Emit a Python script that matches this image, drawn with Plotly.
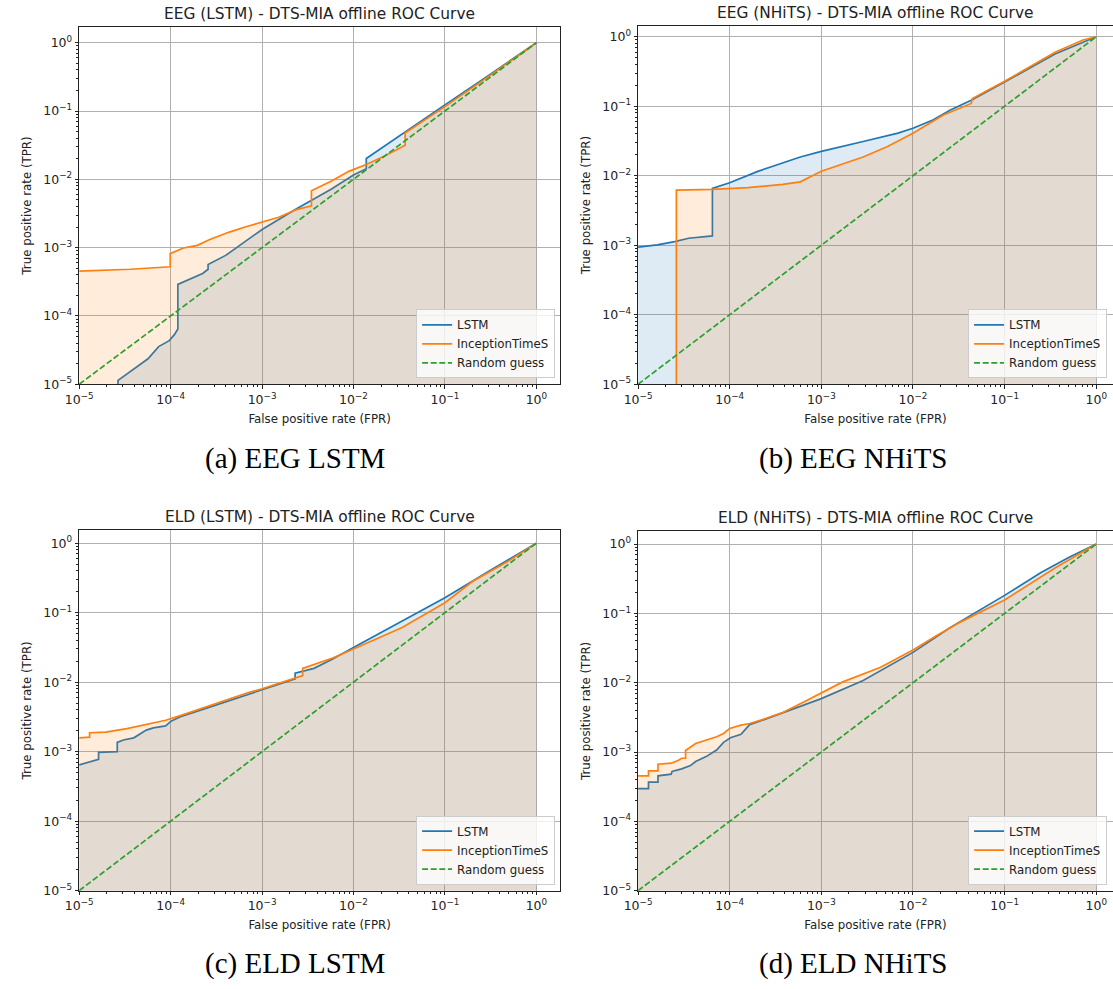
import plotly.graph_objects as go

# ---------------- data ----------------
# Panel (a) EEG LSTM
a_lstm_fpr = [2.66e-5, 2.66e-5, 5.66e-5, 7.4e-5, 9.66e-5, 1.10e-4, 1.2e-4, 1.2e-4, 2.24e-4, 2.4e-4, 2.57e-4, 2.57e-4,
              4.0e-4, 6.8e-4, 1e-3, 2.36e-3, 5.75e-3, 1.0e-2, 1.38e-2, 1.38e-2, 3.73e-2, 0.1, 0.315, 1.0]
a_lstm_tpr = [5e-6, 1.14e-5, 2.36e-5, 3.56e-5, 4.35e-5, 5.32e-5, 6.45e-5, 2.9e-4, 4.18e-4, 4.5e-4, 4.83e-4, 5.65e-4,
              7.7e-4, 1.28e-3, 1.84e-3, 3.67e-3, 7.2e-3, 1.16e-2, 1.43e-2, 2.02e-2, 5.04e-2, 0.123, 0.347, 1.0]
a_inc_fpr = [1e-5, 3.63e-5, 9.9e-5, 9.9e-5, 1.38e-4, 1.96e-4, 2.68e-4, 4.38e-4, 6.8e-4, 1.52e-3, 2.37e-3, 3.47e-3,
             3.47e-3, 5.75e-3, 9.0e-3, 1.4e-2, 2.19e-2, 3.67e-2, 3.67e-2, 0.1, 0.315, 1.0]
a_inc_tpr = [4.52e-4, 4.83e-4, 5.25e-4, 8.17e-4, 9.87e-4, 1.08e-3, 1.32e-3, 1.69e-3, 2.04e-3, 2.78e-3, 3.6e-3, 4.11e-3,
             6.79e-3, 9.48e-3, 1.32e-2, 1.66e-2, 2.19e-2, 3.16e-2, 4.77e-2, 0.116, 0.336, 1.0]

# Panel (b) EEG NHiTS
b_lstm_fpr = [1e-5, 1.62e-5, 2.51e-5, 3.56e-5, 6.48e-5, 6.48e-5, 1e-4, 2.06e-4, 5.9e-4, 1e-3, 2.86e-3, 6.87e-3,
              1e-2, 1.65e-2, 2.56e-2, 4.33e-2, 0.1, 0.355, 1.0]
b_lstm_tpr = [9.38e-4, 1.01e-3, 1.13e-3, 1.26e-3, 1.36e-3, 6.58e-3, 7.94e-3, 1.164e-2, 1.86e-2, 2.24e-2, 3.11e-2, 4.1e-2,
              4.82e-2, 6.34e-2, 8.8e-2, 0.122, 0.223, 0.566, 1.0]
b_inc_fpr = [2.62e-5, 2.62e-5, 6.48e-5, 1.58e-4, 3.8e-4, 5.9e-4, 1e-3, 1.55e-3, 2.86e-3, 5.28e-3, 1e-2, 2.15e-2,
             4.33e-2, 4.45e-2, 0.1, 0.355, 0.716, 1.0]
b_inc_tpr = [5e-6, 6.23e-3, 6.37e-3, 6.73e-3, 7.5e-3, 8.18e-3, 1.16e-2, 1.42e-2, 1.86e-2, 2.64e-2, 4.1e-2, 7.48e-2,
             0.1096, 0.129, 0.228, 0.598, 0.896, 1.0]

# Panel (c) ELD LSTM
c_lstm_fpr = [1e-5, 1.63e-5, 1.63e-5, 2.61e-5, 2.61e-5, 3.04e-5, 3.96e-5, 4.74e-5, 5.42e-5, 6.47e-5, 8.84e-5, 1.01e-4,
              1.26e-4, 2.57e-4, 6.24e-4, 1e-3, 2.3e-3, 2.3e-3, 3.7e-3, 5.92e-3, 1e-2, 3.41e-2, 0.1, 0.315, 1.0]
c_lstm_tpr = [6.45e-4, 7.77e-4, 9.78e-4, 1e-3, 1.36e-3, 1.47e-3, 1.58e-3, 1.83e-3, 2.04e-3, 2.2e-3, 2.35e-3, 2.74e-3,
              3.16e-3, 4.3e-3, 6.24e-3, 7.76e-3, 1.117e-2, 1.345e-2, 1.58e-2, 2.15e-2, 3.16e-2, 7.6e-2, 0.164, 0.407, 1.0]
c_inc_fpr = [1e-5, 1.3e-5, 1.3e-5, 1.95e-5, 3.32e-5, 5.18e-5, 8.84e-5, 1.38e-4, 2.57e-4, 6.83e-4, 1e-3, 2.78e-3,
             2.78e-3, 5.92e-3, 1e-2, 3.41e-2, 0.1, 0.202, 0.491, 1.0]
c_inc_tpr = [1.58e-3, 1.62e-3, 1.87e-3, 1.91e-3, 2.15e-3, 2.46e-3, 2.83e-3, 3.41e-3, 4.49e-3, 6.97e-3, 8.03e-3, 1.245e-2,
             1.58e-2, 2.23e-2, 2.99e-2, 6.1e-2, 0.139, 0.283, 0.547, 1.0]

# Panel (d) ELD NHiTS
d_lstm_fpr = [1e-5, 1.3e-5, 1.3e-5, 1.65e-5, 1.65e-5, 2.3e-5, 2.35e-5, 2.99e-5, 3.73e-5, 4.25e-5, 5.53e-5, 7.2e-5,
              8.57e-5, 1.02e-4, 1.33e-4, 1.65e-4, 2.46e-4, 3.8e-4, 1e-3, 2.86e-3, 1e-2, 2.56e-2, 0.1, 0.25, 0.5, 1.0]
d_lstm_tpr = [2.96e-4, 2.96e-4, 3.68e-4, 3.68e-4, 4.54e-4, 4.8e-4, 5.24e-4, 5.72e-4, 6.38e-4, 7.28e-4, 8.59e-4, 1.07e-3,
              1.38e-3, 1.61e-3, 1.8e-3, 2.49e-3, 2.98e-3, 3.71e-3, 5.89e-3, 1.077e-2, 2.74e-2, 6.26e-2, 0.182, 0.39,
              0.64, 1.0]
d_inc_fpr = [1e-5, 1.3e-5, 1.3e-5, 1.65e-5, 1.65e-5, 2.3e-5, 2.73e-5, 2.99e-5, 3.3e-5, 3.3e-5, 4.25e-5, 5.53e-5,
             7.2e-5, 8.57e-5, 1e-4, 1.33e-4, 1.65e-4, 2.46e-4, 3.8e-4, 6.44e-4, 1e-3, 1.69e-3, 4.44e-3, 1e-2, 1.8e-2,
             3.33e-2, 0.1, 0.355, 1.0]
d_inc_tpr = [4.54e-4, 4.54e-4, 5.36e-4, 5.36e-4, 6.67e-4, 6.9e-4, 7.53e-4, 8.13e-4, 8.13e-4, 1.05e-3, 1.33e-3, 1.49e-3,
             1.66e-3, 1.85e-3, 2.19e-3, 2.44e-3, 2.58e-3, 3.04e-3, 3.71e-3, 5.27e-3, 7.1e-3, 1.02e-2, 1.67e-2, 2.96e-2,
             4.75e-2, 7.55e-2, 0.156, 0.453, 1.0]

random_guess = [1e-5, 1.0]

panel_titles = ["EEG (LSTM) - DTS-MIA offline ROC Curve", "EEG (NHiTS) - DTS-MIA offline ROC Curve",
                "ELD (LSTM) - DTS-MIA offline ROC Curve", "ELD (NHiTS) - DTS-MIA offline ROC Curve"]
captions = ["(a) EEG LSTM", "(b) EEG NHiTS", "(c) ELD LSTM", "(d) ELD NHiTS"]
series_names = ["LSTM", "InceptionTimeS", "Random guess"]
tick_vals = [1e-5, 1e-4, 1e-3, 1e-2, 1e-1, 1.0]
tick_text = ["10<sup>−5</sup>", "10<sup>−4</sup>", "10<sup>−3</sup>", "10<sup>−2</sup>", "10<sup>−1</sup>", "10<sup>0</sup>"]

panels = [
    (a_lstm_fpr, a_lstm_tpr, a_inc_fpr, a_inc_tpr),
    (b_lstm_fpr, b_lstm_tpr, b_inc_fpr, b_inc_tpr),
    (c_lstm_fpr, c_lstm_tpr, c_inc_fpr, c_inc_tpr),
    (d_lstm_fpr, d_lstm_tpr, d_inc_fpr, d_inc_tpr),
]

# ---------------- layout geometry (pixels) ----------------
W, H = 1113, 989
geom = [
    dict(l=66, r=553, t=27, b=387, xr=[-5, 0.259], yr=[-5, 0.233]),
    dict(l=632, r=1113, t=26, b=387, xr=[-5, 0.183], yr=[-5, 0.157]),
    dict(l=66, r=553, t=534, b=897, xr=[-5, 0.259], yr=[-5, 0.186]),
    dict(l=632, r=1113, t=535, b=897, xr=[-5, 0.183], yr=[-5, 0.186]),
]
caption_pos = [(285, 462), (850, 462), (285, 970), (850, 970)]

BLUE, ORANGE, GREEN = "#1f77b4", "#ff7f0e", "#2ca02c"
FONT = "DejaVu Sans"
TXT = "#222"
FS = 11.8
TFS = 12.5

fig = go.Figure()
layout = dict(width=W, height=H, margin=dict(l=0, r=0, t=0, b=0), paper_bgcolor="white",
              plot_bgcolor="white", showlegend=True, annotations=[])

for i, (lx, ly, ix, iy) in enumerate(panels):
    n = "" if i == 0 else str(i + 1)
    xa, ya = "x" + n, "y" + n
    leg = "legend" + n
    g = geom[i]
    fig.add_trace(go.Scatter(x=lx + [lx[-1], lx[0]], y=ly + [1e-12, 1e-12], mode="lines", fill="toself",
                             fillcolor="rgba(31,119,180,0.15)", line=dict(width=0), hoverinfo="skip",
                             showlegend=False, xaxis=xa, yaxis=ya))
    fig.add_trace(go.Scatter(x=lx, y=ly, mode="lines", name=series_names[0], line=dict(color=BLUE, width=1.7),
                             xaxis=xa, yaxis=ya, legend=leg))
    fig.add_trace(go.Scatter(x=ix + [ix[-1], ix[0]], y=iy + [1e-12, 1e-12], mode="lines", fill="toself",
                             fillcolor="rgba(255,127,14,0.15)", line=dict(width=0), hoverinfo="skip",
                             showlegend=False, xaxis=xa, yaxis=ya))
    fig.add_trace(go.Scatter(x=ix, y=iy, mode="lines", name=series_names[1], line=dict(color=ORANGE, width=1.7),
                             xaxis=xa, yaxis=ya, legend=leg))
    fig.add_trace(go.Scatter(x=random_guess, y=random_guess, mode="lines", name=series_names[2],
                             line=dict(color=GREEN, width=1.7, dash="6px,2.6px"),
                             xaxis=xa, yaxis=ya, legend=leg))

    right_cut = g["r"] >= W
    axis_common = dict(type="log", tickvals=tick_vals, ticktext=tick_text, showgrid=True, gridcolor="#b0b0b0",
                       gridwidth=0.8, showline=True, linecolor=TXT, linewidth=1, ticks="outside", ticklen=3.5,
                       tickwidth=0.8, tickcolor=TXT, tickfont=dict(family=FONT, size=TFS, color=TXT),
                       zeroline=False,
                       minor=dict(ticks="outside", ticklen=2, tickwidth=0.6, tickcolor=TXT, showgrid=False,
                                  dtick="D1"))
    layout["xaxis" + n] = dict(axis_common, domain=[g["l"] / W, min(g["r"] / W, 1.0)], range=g["xr"], anchor=ya,
                               mirror=True,
                               title=dict(text="False positive rate (FPR)", font=dict(family=FONT, size=FS,
                                                                                        color=TXT), standoff=8))
    layout["yaxis" + n] = dict(axis_common, domain=[1 - g["b"] / H, 1 - g["t"] / H], range=g["yr"], anchor=xa,
                               mirror=(not right_cut),
                               title=dict(text="True positive rate (TPR)", font=dict(family=FONT, size=FS,
                                                                                       color=TXT), standoff=9))
    layout[leg] = dict(x=(min(g["r"], W) - 5 - (1 if right_cut else 0)) / W, xanchor="right",
                       y=1 - (g["b"] - 6) / H, yanchor="bottom", bgcolor="rgba(255,255,255,0.8)",
                       bordercolor="#cccccc", borderwidth=1, font=dict(family=FONT, size=FS, color=TXT),
                       itemwidth=30, tracegroupgap=0)
    layout["annotations"].append(dict(text=panel_titles[i], x=(g["l"] + min(g["r"], 1119)) / 2 / W,
                                      y=1 - (g["t"] - 2) / H, xref="paper", yref="paper", xanchor="center",
                                      yanchor="bottom", showarrow=False,
                                      font=dict(family=FONT, size=15.4, color=TXT)))
    cx, cy = caption_pos[i]
    layout["annotations"].append(dict(text=captions[i], x=cx / W, y=1 - cy / H, xref="paper", yref="paper",
                                      xanchor="center", yanchor="middle", showarrow=False,
                                      font=dict(family="Liberation Serif", size=29, color="black")))

fig.update_layout(**layout)
fig.write_html("out.html")
